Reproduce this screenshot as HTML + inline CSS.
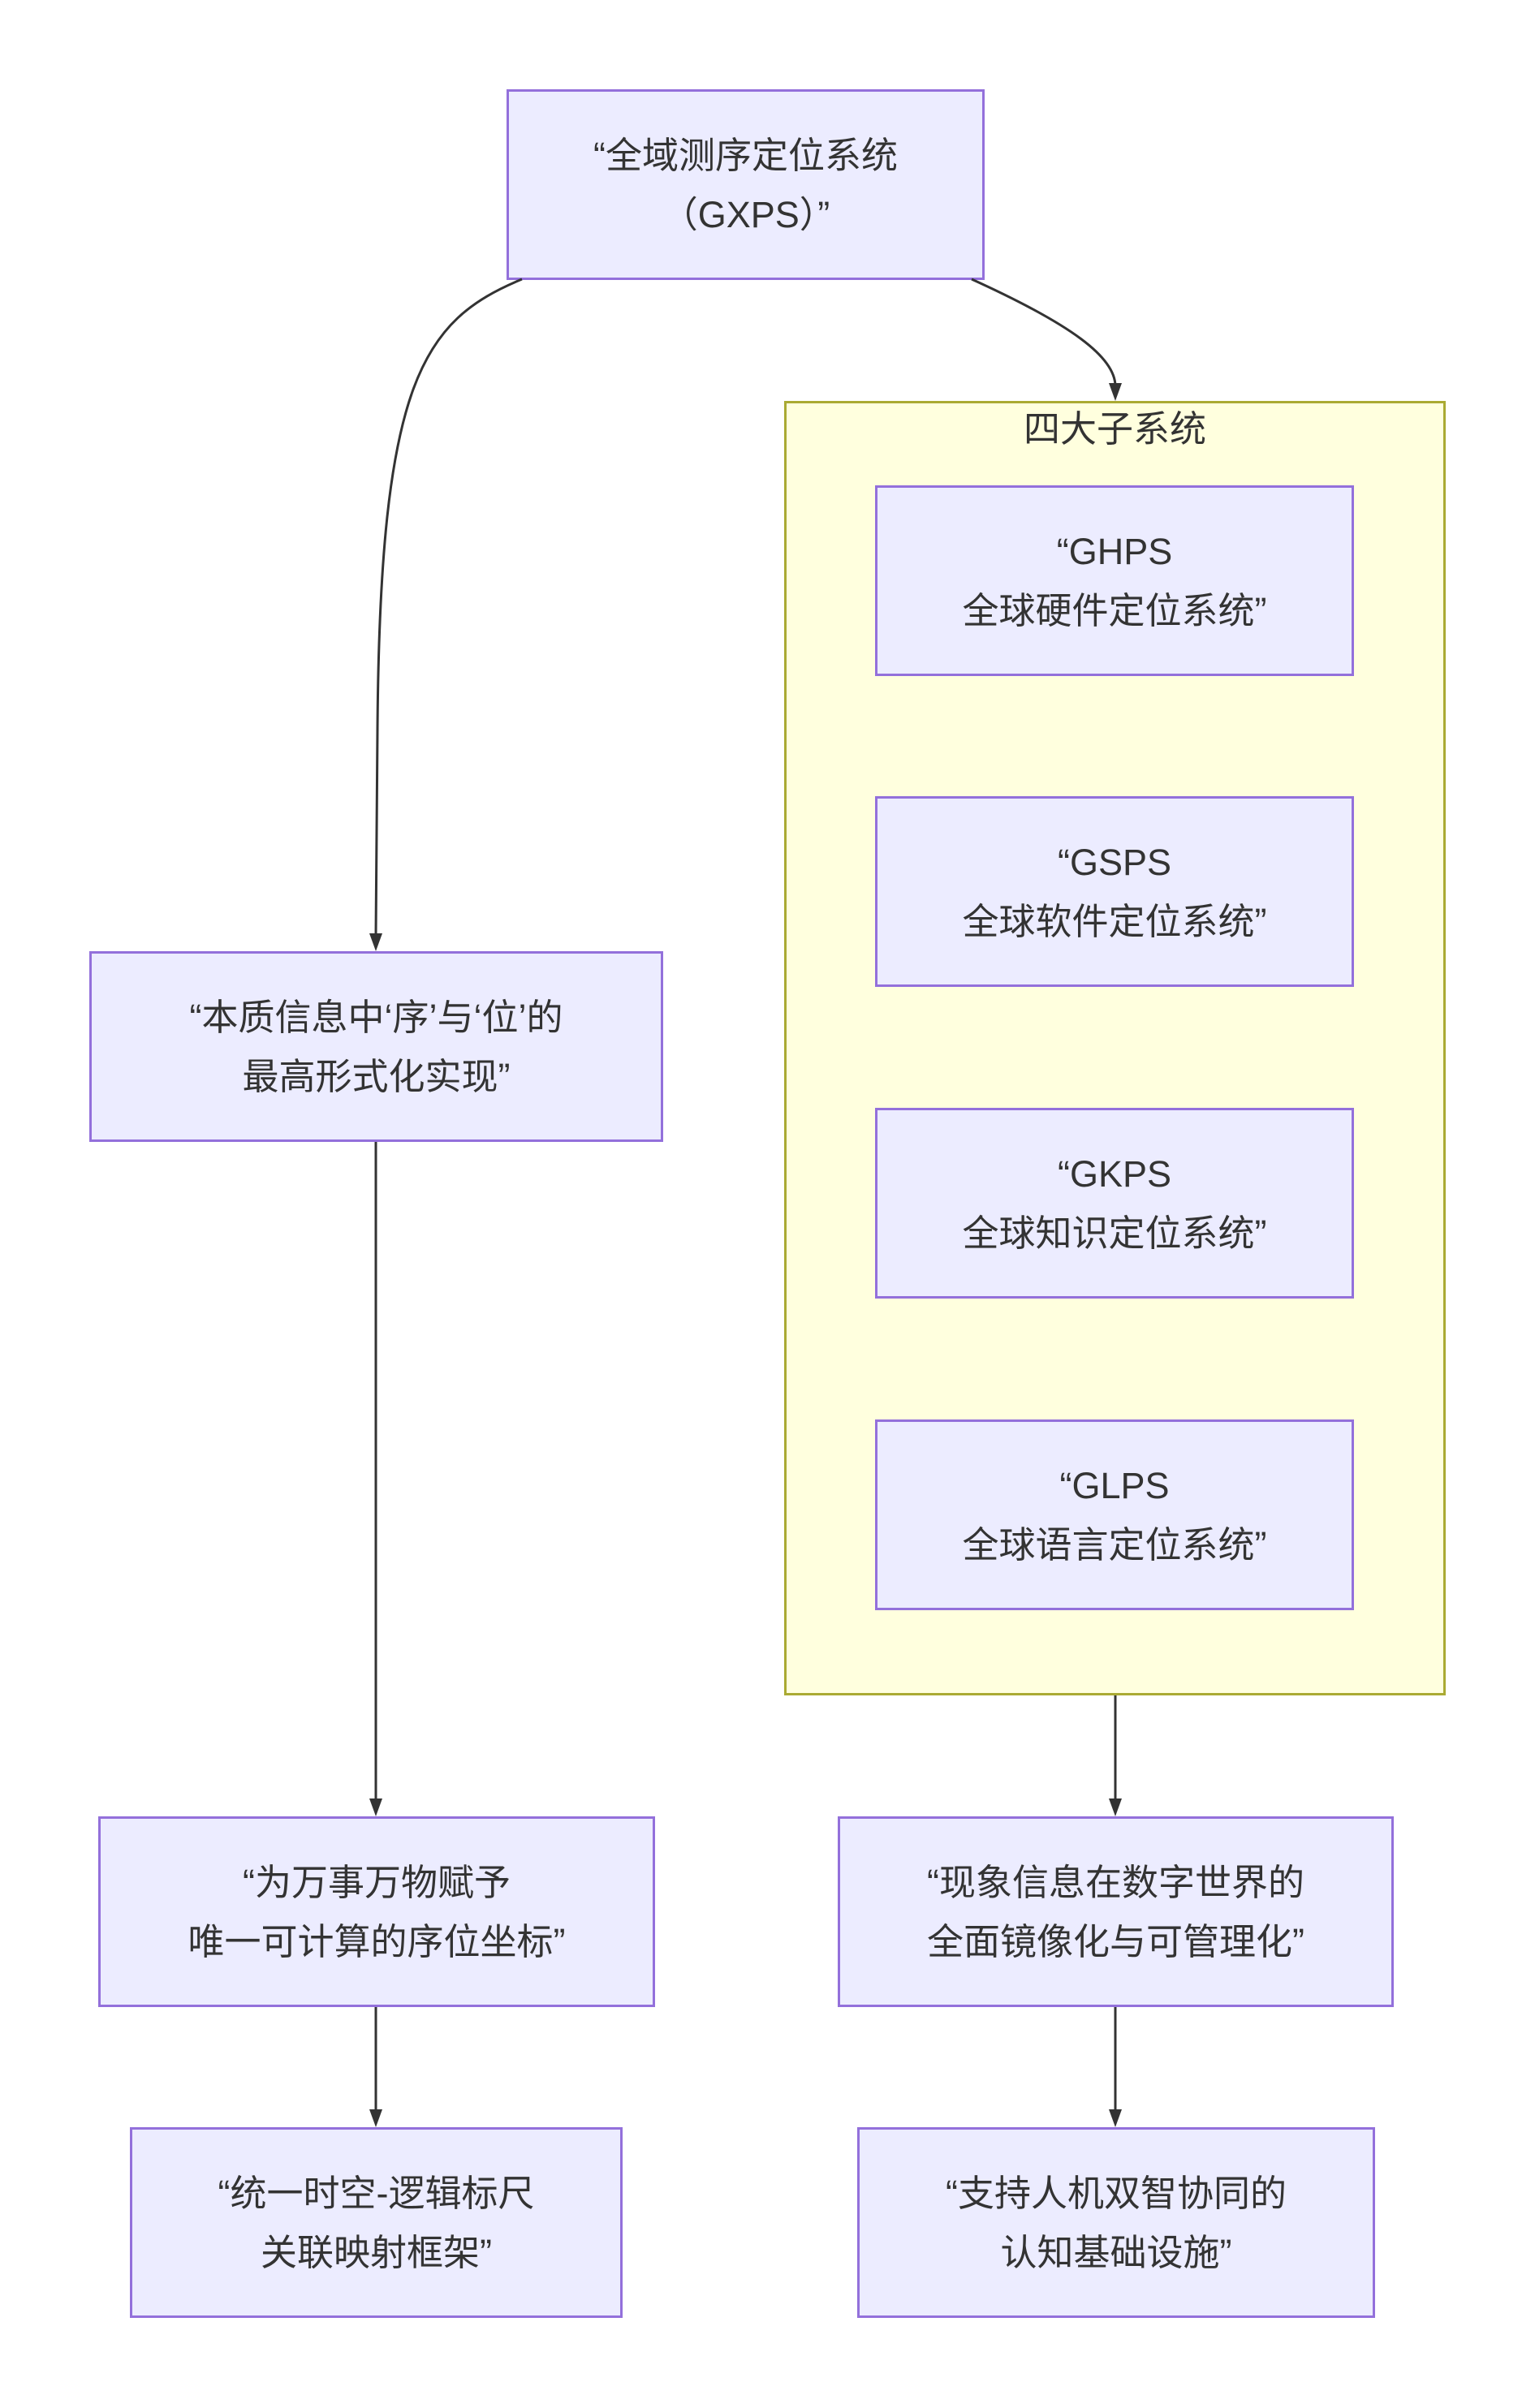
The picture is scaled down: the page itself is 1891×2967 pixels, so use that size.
<!DOCTYPE html>
<html><head><meta charset="utf-8">
<style>
html,body{margin:0;padding:0;background:#fff;}
body{width:1891px;height:2967px;position:relative;overflow:hidden;font-family:"Liberation Sans","Noto Sans CJK SC",sans-serif;color:#333;}
.n{position:absolute;box-sizing:border-box;background:#ECECFF;border:3px solid #9370DB;display:flex;align-items:center;justify-content:center;text-align:center;font-size:45px;line-height:73px;white-space:nowrap;}
.c{position:absolute;box-sizing:border-box;background:#FFFFDE;border:3px solid #AAAA33;}
.t{position:absolute;font-size:45px;text-align:center;white-space:nowrap;}
svg{position:absolute;left:0;top:0;}
</style></head><body>
<div class="c" style="left:966px;top:494px;width:815px;height:1595px;"></div>
<div class="t" style="left:966px;width:815px;top:500px;line-height:58px;">四大子系统</div>

<div class="n" style="left:624px;top:110px;width:589px;height:235px;">“全域测序定位系统<br>（GXPS）”</div>

<div class="n" style="left:1078px;top:598px;width:590px;height:235px;">“GHPS<br>全球硬件定位系统”</div>
<div class="n" style="left:1078px;top:981px;width:590px;height:235px;">“GSPS<br>全球软件定位系统”</div>
<div class="n" style="left:1078px;top:1365px;width:590px;height:235px;">“GKPS<br>全球知识定位系统”</div>
<div class="n" style="left:1078px;top:1749px;width:590px;height:235px;">“GLPS<br>全球语言定位系统”</div>

<div class="n" style="left:110px;top:1172px;width:707px;height:235px;">“本质信息中‘序’与‘位’的<br>最高形式化实现”</div>
<div class="n" style="left:121px;top:2238px;width:686px;height:235px;">“为万事万物赋予<br>唯一可计算的序位坐标”</div>
<div class="n" style="left:160px;top:2621px;width:607px;height:235px;">“统一时空-逻辑标尺<br>关联映射框架”</div>
<div class="n" style="left:1032px;top:2238px;width:685px;height:235px;">“现象信息在数字世界的<br>全面镜像化与可管理化”</div>
<div class="n" style="left:1056px;top:2621px;width:638px;height:235px;">“支持人机双智协同的<br>认知基础设施”</div>

<svg width="1891" height="2967" viewBox="0 0 1891 2967">
<defs><marker id="a" viewBox="0 0 10 10" refX="9" refY="5" markerWidth="7" markerHeight="7" markerUnits="userSpaceOnUse" orient="auto"></marker></defs>
<g fill="none" stroke="#333" stroke-width="3">
<path d="M643,344 C520,395 468,470 465,900 L463,1152"/>
<path d="M1197,344 C1320,400 1374,440 1374,476"/>
<path d="M463,1407 L463,2218"/>
<path d="M463,2473 L463,2601"/>
<path d="M1374,2089 L1374,2218"/>
<path d="M1374,2473 L1374,2601"/>
</g>
<g fill="#333">
<polygon points="455,1150 471,1150 463,1172"/>
<polygon points="1366,472 1382,472 1374,494"/>
<polygon points="455,2216 471,2216 463,2238"/>
<polygon points="455,2599 471,2599 463,2621"/>
<polygon points="1366,2216 1382,2216 1374,2238"/>
<polygon points="1366,2599 1382,2599 1374,2621"/>
</g>
</svg>
</body></html>
